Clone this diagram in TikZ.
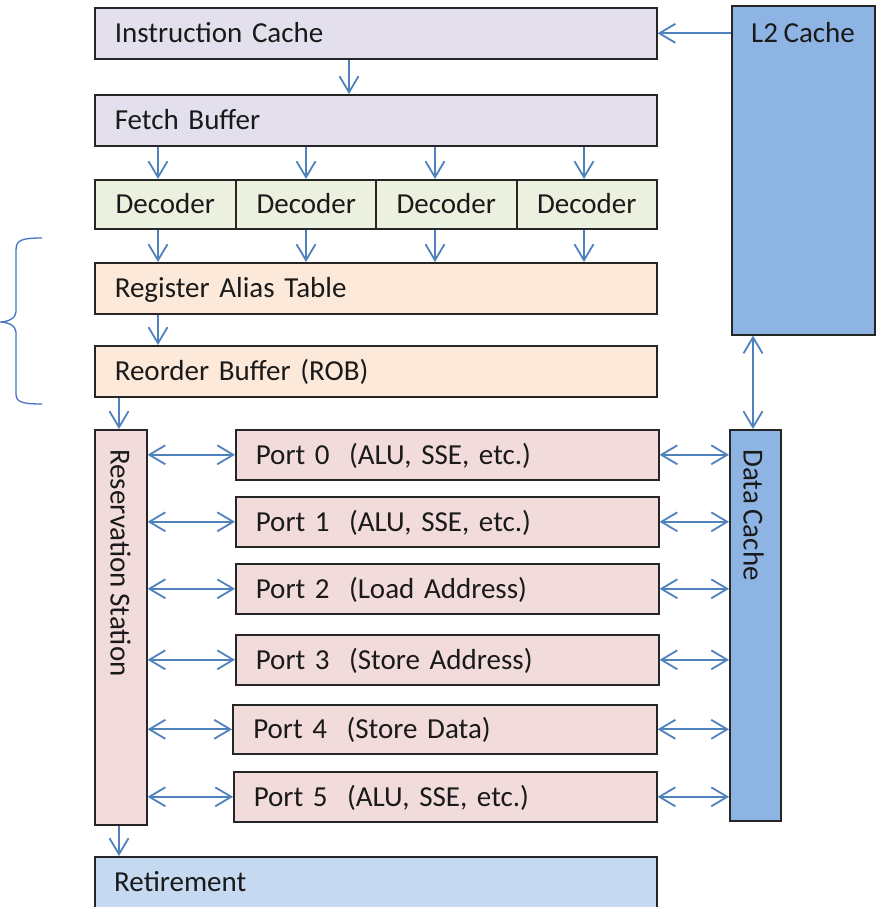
\documentclass[tikz,border=0pt]{standalone}
\usepackage{fontspec}
\setmainfont{Carlito}[WordSpace=0.85]
\usetikzlibrary{arrows.meta}
\definecolor{bord}{HTML}{262626}
\definecolor{txt}{HTML}{1A1A1A}
\definecolor{arrc}{HTML}{4F81BD}
\definecolor{bracec}{HTML}{4472C4}
\definecolor{lav}{HTML}{E4DFEC}
\definecolor{grn}{HTML}{EBF1DE}
\definecolor{peach}{HTML}{FDE9D9}
\definecolor{rose}{HTML}{F2DCDB}
\definecolor{cacheblue}{HTML}{8EB4E3}
\definecolor{retblue}{HTML}{C5D9F1}
\begin{document}
\begin{tikzpicture}[x=1pt,y=-1pt,
  blk/.style={draw=bord, line width=1.6pt, inner sep=0pt, anchor=north west,
    font=\fontsize{29}{34}\selectfont, text=txt, text height=18.7pt, text depth=0pt},
  wide/.style={blk, align=left, minimum width=562pt, text width=522pt, minimum height=51pt},
  port/.style={blk, align=left, minimum width=423pt, text width=383pt, minimum height=50pt, fill=rose},
  dec/.style={blk, align=center, minimum width=141pt, minimum height=49pt, fill=grn},
  lbl/.style={inner sep=0pt, font=\fontsize{29}{34}\selectfont, text=txt, text height=18.7pt, text depth=0pt},
  arr/.style={draw=arrc, line width=1.8pt, -{Straight Barb[length=16pt,width=19pt,line width=1.8pt]}},
  darr/.style={draw=arrc, line width=1.8pt, {Straight Barb[length=16pt,width=19pt,line width=1.8pt]}-{Straight Barb[length=16pt,width=19pt,line width=1.8pt]}},
  bracestyle/.style={draw=bracec, line width=1.3pt}
]
\useasboundingbox (0,0) rectangle (875,907);

% main column
\node[wide, fill=lav] (ic) at (94,7) {Instruction Cache};
\node[wide, fill=lav] (fb) at (94,94) {Fetch Buffer};
\node[dec] (d1) at (94,179) {Decoder};
\node[dec] (d2) at (235,179) {Decoder};
\node[dec] (d3) at (375,179) {Decoder};
\node[dec, minimum width=140pt] (d4) at (516,179) {Decoder};
\node[wide, fill=peach] (rat) at (94,262) {Register Alias Table};
\node[wide, fill=peach] (rob) at (94,345) {Reorder Buffer (ROB)};

% L2 cache
\node[blk, fill=cacheblue, minimum width=143pt, minimum height=329pt] (l2) at (731,5) {};
\node[lbl] (l2t) at (803,33) {L2 Cache};

% reservation station
\node[blk, fill=rose, minimum width=52pt, minimum height=395pt] (rs) at (94,429) {};
\node[lbl, rotate=-90, anchor=west] (rst) at (120,449) {Reservation Station};

% data cache
\node[blk, fill=cacheblue, minimum width=51pt, minimum height=391pt] (dc) at (729,429) {};
\node[lbl, rotate=-90, anchor=west] (dct) at (753,449) {Data Cache};

% ports
\node[port] (p0) at (235,429) {Port 0\ \ (ALU, SSE, etc.)};
\node[port] (p1) at (235,496) {Port 1\ \ (ALU, SSE, etc.)};
\node[port] (p2) at (235,563) {Port 2\ \ (Load Address)};
\node[port] (p3) at (235,634) {Port 3\ \ (Store Address)};
\node[port, minimum width=424pt, minimum height=49pt] (p4) at (232,704) {Port 4\ \ (Store Data)};
\node[port] (p5) at (233,771) {Port 5\ \ (ALU, SSE, etc.)};

% retirement
\node[wide, fill=retblue, minimum height=56pt] (ret) at (94,856) {};
\node[lbl, anchor=west] (rett) at (114,882) {Retirement};

% column coordinates
\coordinate (cx0) at (349,0);
\coordinate (cx1) at (158,0);
\coordinate (cx2) at (306,0);
\coordinate (cx3) at (435,0);
\coordinate (cx4) at (584,0);
\coordinate (cxr) at (119,0);
\coordinate (cxd) at (753,0);

% arrows
\draw[arr] (l2.west |- ic.east) -- (ic.east);
\draw[arr] (ic.south -| cx0) -- (fb.north -| cx0);
\draw[arr] (fb.south -| cx1) -- (d1.north -| cx1);
\draw[arr] (fb.south -| cx2) -- (d2.north -| cx2);
\draw[arr] (fb.south -| cx3) -- (d3.north -| cx3);
\draw[arr] (fb.south -| cx4) -- (d4.north -| cx4);
\draw[arr] (d1.south -| cx1) -- (rat.north -| cx1);
\draw[arr] (d2.south -| cx2) -- (rat.north -| cx2);
\draw[arr] (d3.south -| cx3) -- (rat.north -| cx3);
\draw[arr] (d4.south -| cx4) -- (rat.north -| cx4);
\draw[arr] (rat.south -| cx1) -- (rob.north -| cx1);
\draw[arr] (rob.south -| cxr) -- (rs.north -| cxr);
\draw[arr] (rs.south -| cxr) -- (ret.north -| cxr);
\draw[darr] (l2.south -| cxd) -- (dc.north -| cxd);

\foreach \p in {p0,p1,p2,p3,p4,p5}{
  \draw[darr] (rs.east |- \p.west) -- (\p.west);
  \draw[darr] (\p.east) -- (dc.west |- \p.east);
}

% brace
\draw[bracestyle] (42,238) .. controls (22,238) and (16,240) .. (16,250)
  -- (16,312) .. controls (16,318) and (8,322) .. (0,322)
  .. controls (8,322) and (16,326) .. (16,332)
  -- (16,394) .. controls (16,402) and (22,404) .. (42,404);
\end{tikzpicture}
\end{document}
